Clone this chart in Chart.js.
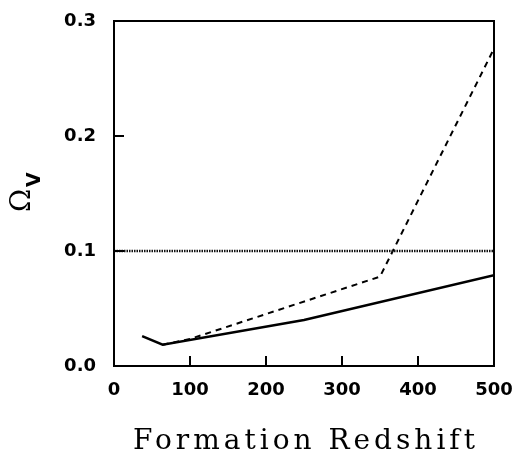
<!DOCTYPE html>
<html>
<head>
<meta charset="utf-8">
<script src="https://cdn.jsdelivr.net/npm/chart.js@4/dist/chart.umd.min.js"></script>
<style>
  html, body { margin: 0; padding: 0; background: #fff; }
  canvas { display: block; }
</style>
</head>
<body>
<canvas id="myChart" width="514" height="461"></canvas>
<script>
// formation redshift vs Omega_V
const zSolid = [37, 64, 250, 500];
const omegaSolid = [0.026, 0.0185, 0.040, 0.079];

const zDashed = [64, 100, 350, 500];
const omegaDashed = [0.0185, 0.0235, 0.0777, 0.276];

const zDotted = [0, 500];
const omegaDotted = [0.1, 0.1];

const xTicks = [0, 100, 200, 300, 400, 500];
const yTicks = [0, 0.1, 0.2, 0.3];

const xTitle = "Formation Redshift";
const yTitle = "\u03A9";
const ySub = "V";

function pts(xs, ys) {
	return xs.map((v, i) => ({ x: v, y: ys[i] }));
}

// frame, inward ticks and axis titles
const decor = {
	id: "decor",
	afterDatasetsDraw(chart) {
		const { ctx, chartArea: a, scales } = chart;
		const x = scales.x;
		const y = scales.y;
		ctx.save();
		ctx.strokeStyle = "#000";
		ctx.lineWidth = 2;
		ctx.strokeRect(a.left, a.top, a.right - a.left, a.bottom - a.top);
		ctx.beginPath();
		xTicks.slice(1, -1).forEach((v) => {
			const px = x.getPixelForValue(v);
			ctx.moveTo(px, a.bottom);
			ctx.lineTo(px, a.bottom - 10);
		});
		yTicks.slice(1, -1).forEach((v) => {
			const py = y.getPixelForValue(v);
			ctx.moveTo(a.left, py);
			ctx.lineTo(a.left + 10, py);
		});
		ctx.stroke();

		// x title, spaced out like the original
		ctx.fillStyle = "#000";
		ctx.font = "28px 'DejaVu Serif'";
		ctx.textBaseline = "alphabetic";
		ctx.textAlign = "left";
		const sp = 4;
		if ("letterSpacing" in ctx) ctx.letterSpacing = sp + "px";
		const w = ctx.measureText(xTitle).width - ("letterSpacing" in ctx ? sp : 0);
		ctx.fillText(xTitle, (a.left + a.right) / 2 - w / 2, 449);
		if ("letterSpacing" in ctx) ctx.letterSpacing = "0px";

		// y title, rotated, with subscript
		ctx.translate(30, 212);
		ctx.rotate(-Math.PI / 2);
		ctx.font = "28px 'DejaVu Serif'";
		ctx.fillText(yTitle, 0, 0);
		ctx.font = "bold 19px 'DejaVu Sans'";
		ctx.fillText(ySub, 25, 10);
		ctx.restore();
	},
};

const ctx = document.getElementById("myChart");

let grafico = new Chart(ctx, {
	type: "scatter",
	data: {
		datasets: [
			{
				data: pts(zDotted, omegaDotted),
				showLine: true,
				borderColor: "#111",
				borderWidth: 2.5,
				borderDash: [1.5, 1],
				pointRadius: 0,
			},
			{
				data: pts(zSolid, omegaSolid),
				showLine: true,
				borderColor: "#000",
				borderWidth: 2.5,
				pointRadius: 0,
			},
			{
				data: pts(zDashed, omegaDashed),
				showLine: true,
				borderColor: "#000",
				borderWidth: 2,
				borderDash: [6, 5],
				pointRadius: 0,
			},
		],
	},
	options: {
		responsive: false,
		animation: false,
		layout: { padding: { top: 21, right: 20, left: 0, bottom: 0 } },
		plugins: {
			legend: { display: false },
			tooltip: { enabled: false },
		},
		scales: {
			x: {
				type: "linear",
				min: 0,
				max: 500,
				afterBuildTicks: (s) => {
					s.ticks = xTicks.map((v) => ({ value: v }));
				},
				afterFit: (s) => {
					s.height = 95;
					s.paddingLeft = 0;
					s.paddingRight = 0;
				},
				grid: { display: false, drawTicks: false },
				border: { display: false },
				ticks: {
					color: "#000",
					padding: 14,
					maxRotation: 0,
					font: { family: "DejaVu Sans", weight: "bold", size: 18 },
				},
			},
			y: {
				min: 0,
				max: 0.3,
				afterBuildTicks: (s) => {
					s.ticks = yTicks.map((v) => ({ value: v }));
				},
				afterFit: (s) => {
					s.width = 114;
					s.paddingTop = 0;
					s.paddingBottom = 0;
				},
				grid: { display: false, drawTicks: false },
				border: { display: false },
				ticks: {
					color: "#000",
					padding: 18,
					callback: (v) => v.toFixed(1),
					font: { family: "DejaVu Sans", weight: "bold", size: 18 },
				},
			},
		},
	},
	plugins: [decor],
});
</script>
</body>
</html>
